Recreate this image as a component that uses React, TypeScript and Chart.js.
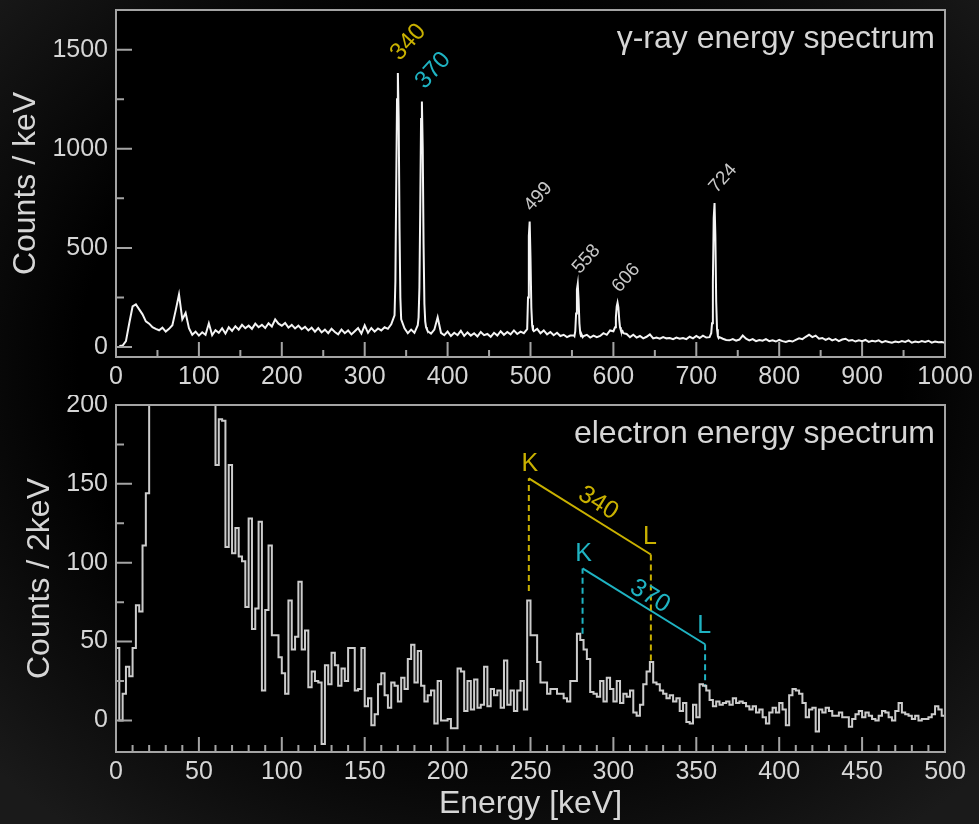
import React, { useEffect, useRef } from 'react';
import { Chart, registerables } from 'chart.js';

Chart.register(...registerables);

const FONT = '"Liberation Sans", Arial, Helvetica, sans-serif';
const FRAME = '#a4a4a4';
const TEXT = '#d6d6d6';
const YELLOW = '#c9b100';
const CYAN = '#1fb3c2';
const LABEL_GRAY = '#c8c8c8';

// ---------- gamma-ray spectrum (top) ----------
const gammaStart = 4; // keV of first sample
const gammaStep = 4; // keV between samples
const gammaCounts = [
  6, 8, 30, 120, 205, 215, 190, 165, 130, 118,
  100, 92, 85, 98, 78, 92, 110, 185, 265, 140,
  172, 95, 62, 78, 58, 75, 62, 120, 60, 85,
  72, 95, 68, 100, 82, 105, 88, 112, 95, 108,
  92, 118, 100, 112, 96, 120, 104, 140, 118, 108,
  122, 98, 112, 94, 108, 90, 102, 84, 98, 78,
  96, 74, 88, 70, 92, 76, 64, 88, 70, 84,
  64, 80, 96, 68, 110, 72, 96, 78, 94, 84,
  100, 92, 115, 160, 1382, 140, 95, 70, 88, 72,
  110, 1150, 220, 80, 68, 88, 150, 72, 60, 78,
  56, 72, 60, 82, 56, 74, 58, 70, 54, 76,
  60, 66, 52, 72, 58, 80, 62, 76, 64, 84,
  66, 78, 70, 90, 450, 80, 92, 70, 84, 64,
  76, 60, 72, 56, 62, 50, 58, 60, 290, 70,
  55, 62, 48, 58, 50, 56, 70, 62, 84, 80,
  205, 100, 70, 66, 50, 62, 48, 56, 44, 52,
  64, 44, 48, 42, 50, 44, 46, 40, 48, 42,
  46, 40, 52, 44, 56, 46, 58, 48, 50, 560,
  130, 50, 42, 36, 34, 40, 32, 38, 58, 42,
  34, 40, 30, 36, 32, 40, 30, 34, 28, 36,
  30, 26, 32, 28, 36, 44, 40, 52, 62, 50,
  58, 42, 46, 36, 44, 34, 40, 30, 38, 42,
  32, 36, 28, 34, 30, 36, 26, 32, 28, 34,
  24, 30, 26, 22, 28, 24, 30, 26, 34, 22,
  28, 24, 30, 26, 32, 22, 28, 24, 26, 22,
];
// finely sampled (1 keV) peak regions, replacing the coarse samples inside them
const gammaPeakStart = [336, 364, 496, 552, 600, 716];
const gammaPeakCounts = [
  [160, 330, 800, 1250, 1382, 1150, 600, 250, 140],
  [110, 150, 300, 700, 1150, 1239, 1000, 520, 220, 130, 100, 90, 80],
  [90, 250, 560, 633, 450, 200, 110, 85, 80],
  [60, 55, 80, 170, 290, 318, 240, 120, 70, 55, 60, 50, 55],
  [80, 90, 100, 150, 205, 224, 200, 140, 100, 85, 75, 80, 70],
  [50, 60, 70, 120, 330, 650, 726, 560, 230, 90, 55, 45, 50],
];
const gammaTickEnergy = [0, 100, 200, 300, 400, 500, 600, 700, 800, 900, 1000];
const gammaTickCounts = [0, 500, 1000, 1500];
const gammaLabels = ['340', '370', '499', '558', '606', '724'];
const gammaLabelEnergy = [340, 370, 499, 557, 605, 722];
const gammaLabelCounts = [1382, 1239, 633, 318, 224, 726];
const gammaLabelColors = [YELLOW, CYAN, LABEL_GRAY, LABEL_GRAY, LABEL_GRAY, LABEL_GRAY];

// ---------- electron spectrum (bottom), 2 keV bins from 0 ----------
const electronBinWidth = 2;
const electronCounts = [
  46, 0, 17, 34, 28, 46, 73, 69, 111, 144,
  260, 320, 380, 420, 450, 460, 450, 440, 420, 400,
  380, 360, 330, 310, 290, 270, 250, 235, 220, 210,
  162, 191, 190, 110, 162, 106, 122, 104, 101, 72,
  128, 58, 71, 126, 19, 70, 111, 54, 54, 40,
  30, 17, 76, 45, 53, 88, 45, 57, 21, 31,
  25, 24, -15, 35, 23, 43, 35, 22, 33, 25,
  46, 46, 19, 20, 46, 9, 14, -3, 4, 23,
  30, 16, 8, 24, 22, 12, 27, 20, 39, 48,
  24, 44, 22, 12, 16, 19, -2, 25, 0, 0,
  1, -5, -5, 33, 31, 6, 25, 7, 26, 8,
  10, 34, 9, 20, 16, 19, 8, 38, 10, 19,
  6, 19, 25, 7, 76, 54, 54, 37, 24, 24,
  17, 20, 20, 17, 17, 14, 12, 25, 25, 55,
  51, 45, 39, 18, 17, 15, 25, 12, 27, 20,
  12, 25, 11, 17, 15, 19, 5, 3, 10, 23,
  31, 37, 24, 23, 19, 17, 14, 16, 12, 14,
  6, 11, -1, -2, 10, 2, 23, 22, 19, 13,
  9, 12, 10, 11, 12, 10, 14, 11, 12, 11,
  9, 7, 9, 5, 7, 2, -2, 5, 8, 5,
  11, 7, -3, 16, 20, 19, 17, 11, 2, 7,
  8, -7, 7, 5, 8, 6, 3, 3, 5, 2,
  2, -4, 1, 4, 6, 2, 5, 3, 1, 0,
  3, 6, 5, 2, 0, 6, 11, 5, 4, 3,
  1, 3, 0, 1, 1, 2, 4, 9, 7, 3,
];
const electronTickEnergy = [0, 50, 100, 150, 200, 250, 300, 350, 400, 450, 500];
const electronTickCounts = [0, 50, 100, 150, 200];

// conversion-electron K/L markers
const convLabels = ['340', '370'];
const convColors = [YELLOW, CYAN];
const convKEnergy = [249, 281.4];
const convLEnergy = [322.6, 355.3];
const convKTop = [153.5, 96.4];
const convLTop = [105.2, 48.3];
const convKBase = [82, 55];
const convLBase = [37, 21];

// ---------- derived tables ----------
function buildGammaPoints() {
  const windows = gammaPeakStart.map((s, i) => [s, s + gammaPeakCounts[i].length - 1]);
  const pts: { x: number; y: number }[] = [];
  gammaCounts.forEach((c, i) => {
    const e = gammaStart + i * gammaStep;
    if (!windows.some(([a, b]) => e >= a && e <= b)) pts.push({ x: e, y: c });
  });
  gammaPeakStart.forEach((s, i) => gammaPeakCounts[i].forEach((c, j) => pts.push({ x: s + j, y: c })));
  pts.sort((a, b) => a.x - b.x);
  return pts;
}

function buildElectronPoints() {
  const pts = electronCounts.map((c, i) => ({ x: i * electronBinWidth, y: c }));
  pts.push({ x: electronCounts.length * electronBinWidth, y: electronCounts[electronCounts.length - 1] });
  return pts;
}

function makeFramePlugin(cfg: { xMajor: number; xMinor: number; yMajor: number; yMinor: number; title: string }) {
  return {
    id: 'frame',
    beforeDraw(chart: any) {
      const { ctx, chartArea: a } = chart;
      ctx.save();
      ctx.fillStyle = '#000';
      ctx.fillRect(a.left, a.top, a.right - a.left, a.bottom - a.top);
      ctx.restore();
    },
    afterDatasetsDraw(chart: any) {
      const { ctx, chartArea: a, scales } = chart;
      const x = scales.x;
      const y = scales.y;
      ctx.save();
      ctx.strokeStyle = FRAME;
      ctx.lineWidth = 2;
      ctx.beginPath();
      const eps = 1e-6;
      for (let v = 0; v <= x.max + eps; v += cfg.xMinor) {
        const px = x.getPixelForValue(v);
        if (px <= a.left + 1 || px >= a.right - 1) continue;
        const major = Math.abs(v / cfg.xMajor - Math.round(v / cfg.xMajor)) < 1e-6;
        const len = major ? 15 : 7;
        ctx.moveTo(px, a.bottom);
        ctx.lineTo(px, a.bottom - len);
      }
      for (let v = 0; v <= y.max + eps; v += cfg.yMinor) {
        const py = y.getPixelForValue(v);
        if (py <= a.top + 1 || py >= a.bottom - 1) continue;
        const major = Math.abs(v / cfg.yMajor - Math.round(v / cfg.yMajor)) < 1e-6;
        const len = major ? 16 : 8;
        ctx.moveTo(a.left, py);
        ctx.lineTo(a.left + len, py);
      }
      ctx.stroke();
      ctx.strokeRect(a.left, a.top, a.right - a.left, a.bottom - a.top);
      ctx.font = `32px ${FONT}`;
      ctx.fillStyle = TEXT;
      ctx.textAlign = 'right';
      ctx.textBaseline = 'alphabetic';
      ctx.fillText(cfg.title, a.right - 10, a.top + 38);
      ctx.restore();
    },
  };
}

const gammaLabelPlugin = {
  id: 'gammaLabels',
  afterDatasetsDraw(chart: any) {
    const { ctx, scales } = chart;
    gammaLabels.forEach((t, i) => {
      const px = scales.x.getPixelForValue(gammaLabelEnergy[i]);
      const py = scales.y.getPixelForValue(gammaLabelCounts[i]);
      const big = i < 2;
      ctx.save();
      ctx.translate(px + (big ? -3 : -2), py - (big ? 16 : 13));
      ctx.rotate((-48 * Math.PI) / 180);
      ctx.font = `${big ? 24 : 19}px ${FONT}`;
      ctx.fillStyle = gammaLabelColors[i];
      ctx.textAlign = 'left';
      ctx.textBaseline = 'middle';
      ctx.fillText(t, 0, 0);
      ctx.restore();
    });
  },
};

const convLabelPlugin = {
  id: 'convLabels',
  afterDatasetsDraw(chart: any) {
    const { ctx, scales } = chart;
    const lift = [8.8, 4.7];
    convLabels.forEach((t, i) => {
      const kx = scales.x.getPixelForValue(convKEnergy[i]);
      const ky = scales.y.getPixelForValue(convKTop[i]);
      const lx = scales.x.getPixelForValue(convLEnergy[i]);
      const ly = scales.y.getPixelForValue(convLTop[i]);
      ctx.save();
      ctx.font = `25px ${FONT}`;
      ctx.fillStyle = convColors[i];
      ctx.textAlign = 'center';
      ctx.textBaseline = 'alphabetic';
      ctx.fillText('K', kx + 1, ky - 7);
      ctx.fillText('L', lx - 1, ly - 11);
      ctx.translate((kx + lx) / 2, (ky + ly) / 2);
      ctx.rotate(Math.atan2(ly - ky, lx - kx));
      ctx.fillText(t, 0, -lift[i]);
      ctx.restore();
    });
  },
};

function fixScale(width?: number, height?: number) {
  return (s: any) => {
    if (width !== undefined) s.width = width;
    if (height !== undefined) s.height = height;
    s.paddingTop = 0;
    s.paddingBottom = 0;
    s.paddingLeft = 0;
    s.paddingRight = 0;
  };
}

function axisOptions(opts: {
  min: number; max: number; ticks: number[]; axis: 'x' | 'y'; size: number;
  title: string; titlePad: any;
}) {
  return {
    type: 'linear',
    min: opts.min,
    max: opts.max,
    grid: { display: false, drawTicks: false, tickLength: 0 },
    border: { display: false },
    afterBuildTicks: (s: any) => {
      s.ticks = opts.ticks.map((v) => ({ value: v }));
    },
    afterFit: opts.axis === 'y' ? fixScale(opts.size, undefined) : fixScale(undefined, opts.size),
    ticks: {
      color: TEXT,
      font: { family: FONT, size: 25 },
      padding: opts.axis === 'y' ? 8 : 5,
      maxRotation: 0,
      autoSkip: false,
      callback: (v: any) => String(v),
    },
    title: {
      display: opts.title !== '',
      text: opts.title,
      color: TEXT,
      font: { family: FONT, size: 32, lineHeight: 1.2 },
      padding: opts.titlePad,
    },
  };
}

export default function App() {
  const topRef = useRef<HTMLCanvasElement>(null);
  const botRef = useRef<HTMLCanvasElement>(null);

  useEffect(() => {
    const top = new Chart(topRef.current as HTMLCanvasElement, {
      type: 'line',
      data: {
        datasets: [
          {
            data: buildGammaPoints(),
            borderColor: '#f4f4f4',
            borderWidth: 2,
            pointRadius: 0,
            tension: 0,
          },
        ],
      },
      options: {
        animation: false,
        responsive: false,
        devicePixelRatio: 1,
        layout: { padding: { left: 0, right: 34, top: 10, bottom: 0 } },
        plugins: { legend: { display: false }, tooltip: { enabled: false } },
        scales: {
          x: axisOptions({ min: 0, max: 1000, ticks: gammaTickEnergy, axis: 'x', size: 38, title: '', titlePad: 0 }),
          y: axisOptions({ min: -50, max: 1700, ticks: gammaTickCounts, axis: 'y', size: 116, title: 'Counts / keV', titlePad: { top: 7, bottom: 0 } }),
        },
      } as any,
      plugins: [makeFramePlugin({ xMajor: 100, xMinor: 50, yMajor: 500, yMinor: 250, title: 'γ-ray energy spectrum' }), gammaLabelPlugin],
    });

    const annot: any[] = [];
    convLabels.forEach((_, i) => {
      const c = convColors[i];
      annot.push(
        { data: [{ x: convKEnergy[i], y: convKBase[i] }, { x: convKEnergy[i], y: convKTop[i] }], borderColor: c, borderWidth: 2, borderDash: [6, 4], pointRadius: 0 },
        { data: [{ x: convKEnergy[i], y: convKTop[i] }, { x: convLEnergy[i], y: convLTop[i] }], borderColor: c, borderWidth: 2, pointRadius: 0 },
        { data: [{ x: convLEnergy[i], y: convLTop[i] }, { x: convLEnergy[i], y: convLBase[i] }], borderColor: c, borderWidth: 2, borderDash: [6, 4], pointRadius: 0 },
      );
    });

    const bot = new Chart(botRef.current as HTMLCanvasElement, {
      type: 'line',
      data: {
        datasets: [
          {
            data: buildElectronPoints(),
            borderColor: '#cccccc',
            borderWidth: 2,
            pointRadius: 0,
            stepped: 'before',
            clip: 0,
          },
          ...annot,
        ],
      },
      options: {
        animation: false,
        responsive: false,
        devicePixelRatio: 1,
        layout: { padding: { left: 0, right: 34, top: 10, bottom: 0 } },
        plugins: { legend: { display: false }, tooltip: { enabled: false } },
        scales: {
          x: axisOptions({ min: 0, max: 500, ticks: electronTickEnergy, axis: 'x', size: 72, title: 'Energy [keV]', titlePad: { top: 0, bottom: 1 } }),
          y: axisOptions({ min: -20, max: 200, ticks: electronTickCounts, axis: 'y', size: 116, title: 'Counts / 2keV', titlePad: { top: 21, bottom: 0 } }),
        },
      } as any,
      plugins: [makeFramePlugin({ xMajor: 50, xMinor: 10, yMajor: 50, yMinor: 25, title: 'electron energy spectrum' }), convLabelPlugin],
    });

    return () => {
      top.destroy();
      bot.destroy();
    };
  }, []);

  return (
    <div
      style={{
        position: 'absolute',
        left: 0,
        top: 0,
        width: 979,
        height: 824,
        overflow: 'hidden',
        background: 'radial-gradient(ellipse 70% 70% at 50% 45%, #000 60%, #1a1a1a 100%)',
      }}
    >
      <canvas ref={topRef} width={979} height={395} style={{ position: 'absolute', left: 0, top: 0, width: 979, height: 395 }} />
      <canvas ref={botRef} width={979} height={429} style={{ position: 'absolute', left: 0, top: 395, width: 979, height: 429 }} />
    </div>
  );
}
